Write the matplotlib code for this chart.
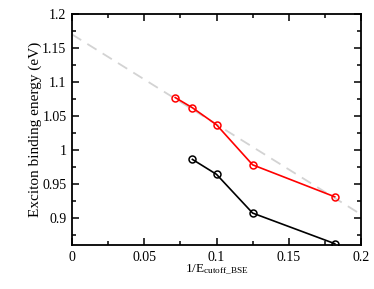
import numpy as np
import matplotlib.pyplot as plt
from matplotlib.ticker import MultipleLocator, FuncFormatter

plt.rcParams['font.family'] = ['Liberation Serif', 'DejaVu Serif']
plt.rcParams['mathtext.fontset'] = 'custom'
plt.rcParams['mathtext.rm'] = 'Liberation Serif'
plt.rcParams['mathtext.it'] = 'Liberation Serif:italic'

# data
x_red = [1/14., 1/12., 1/10., 1/8., 1/5.5]
y_red = [1.077, 1.062, 1.037, 0.978, 0.931]
x_black = [1/12., 1/10., 1/8., 1/5.5]
y_black = [0.986, 0.964, 0.907, 0.862]
x_fit = [0.0, 0.2]
y_fit = [1.17, 0.905]

fig = plt.figure(figsize=(3.74, 2.89), dpi=100)
ax = fig.add_axes([72/374., 1-245/289., (361-72)/374., (245-14)/289.])

ax.plot(x_fit, y_fit, color='#d3d3d3', lw=1.3, dashes=(6, 4))
ax.plot(x_red, y_red, color='red', lw=1.2, marker='o', ms=5, mfc='none', mew=1.1)
ax.plot(x_black, y_black, color='black', lw=1.2, marker='o', ms=5, mfc='none', mew=1.1)

ax.set_xlim(0, 0.2)
ax.set_ylim(0.86, 1.2)
ax.xaxis.set_major_locator(MultipleLocator(0.05))
ax.xaxis.set_minor_locator(MultipleLocator(0.025))
ax.yaxis.set_major_locator(MultipleLocator(0.05))
ax.yaxis.set_minor_locator(MultipleLocator(0.025))
fmt = FuncFormatter(lambda v, p: '%g' % round(v, 3))
ax.xaxis.set_major_formatter(fmt)
ax.yaxis.set_major_formatter(fmt)
ax.tick_params(which='both', direction='in', top=True, right=True, labelsize=10, width=1.1)
ax.tick_params(which='major', length=5, pad=4)
ax.tick_params(which='minor', length=3)
for s in ax.spines.values():
    s.set_linewidth(1.3)

ax.set_xlabel('1/E$_{\\mathrm{cutoff\\_BSE}}$', fontsize=9.5, labelpad=-1)
ax.set_ylabel('Exciton binding energy (eV)', fontsize=11, labelpad=0)

plt.savefig('out.png', dpi=100)
